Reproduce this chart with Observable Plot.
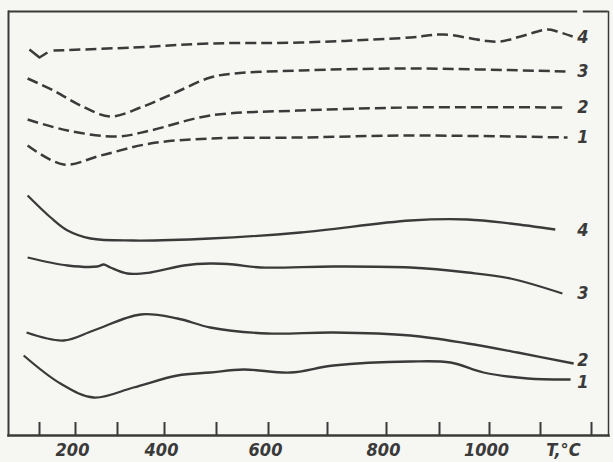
<!DOCTYPE html>
<html><head><meta charset="utf-8">
<script src="https://cdn.jsdelivr.net/npm/d3@7"></script>
<script src="https://cdn.jsdelivr.net/npm/@observablehq/plot@0.6"></script>
<style>
html,body{margin:0;padding:0;background:#f6f6f3;}
#chart svg{display:block;}
</style></head><body><div id="chart"></div>
<script>
// Temperature axis (non-uniform, as on the original thermogram)
const tickTemps = [100, 200, 300, 400, 500, 600, 700, 800, 900, 1000, 1100, 1200];
const labelTemps = [200, 400, 600, 800, 1000];
const axisTitle = "T,°C";
const curveNames = ["1", "2", "3", "4"];

// Dashed curves (TG), [temperature, reading]
const tg4Notch = [[72, 386], [100, 378], [122, 383]];
const tg4 = [[139, 385], [334, 388], [488, 392], [654, 393], [845, 398], [908, 401], [988, 395], [1022, 394], [1061, 399], [1114, 406], [1133, 404], [1163, 399]];
const tg3 = [[67, 357], [139, 345], [212, 330], [283, 319], [349, 328], [417, 342], [488, 358], [533, 362], [654, 365], [845, 367], [1149, 364]];
const tg2 = [[67, 316], [178, 305], [300, 299], [370, 305], [488, 320], [654, 325], [845, 328], [1149, 328]];
const tg1 = [[67, 290], [167, 271], [260, 280], [370, 292], [488, 297], [654, 298], [845, 300], [1153, 298]];

// Solid curves (DTA), [temperature, reading]
const dta4 = [[67, 240], [131, 218], [178, 205], [236, 197], [334, 195], [488, 197], [654, 203], [845, 215], [956, 216], [1041, 212], [1129, 206]];
const dta3 = [[67, 178], [178, 170], [252, 169], [267, 171], [283, 168], [321, 162], [370, 163], [437, 170], [488, 172], [533, 171], [585, 168], [710, 169], [845, 168], [956, 163], [1041, 157], [1143, 142]];
const dta2 = [[64, 103], [167, 95], [243, 105], [349, 121], [425, 117], [488, 108], [598, 102], [710, 103], [845, 100], [956, 92], [1055, 83], [1165, 72]];
const dta1 = [[56, 80], [158, 52], [243, 38], [334, 48], [425, 60], [488, 63], [552, 66], [637, 63], [710, 70], [845, 74], [922, 73], [988, 63], [1075, 57], [1159, 56]];

// Curve-number label readings (right margin)
const dashedLabelV = [298, 328, 364, 398];
const solidLabelV = [53, 75, 142, 205];

const ink = "#3a3a3a";
const font = "'DejaVu Sans Condensed','Liberation Sans Narrow','DejaVu Sans',sans-serif";
const rows = (arr) => arr.map(([t, v]) => ({t, v}));
const dashedSeries = [tg1, tg2, tg3, tg4];
const solidSeries = [dta1, dta2, dta3, dta4];
const labelT = 1183;

const lineOpts = {x: "t", y: "v", curve: "catmull-rom", stroke: ink, strokeWidth: 2.5, strokeLinecap: "butt"};
const textOpts = {fontSize: 18, fontStyle: "italic", fontWeight: 600, fill: ink};

const marks = [];
dashedSeries.forEach((s) => marks.push(Plot.line(rows(s), {...lineOpts, strokeDasharray: "11,5"})));
marks.push(Plot.line(rows(tg4Notch), {...lineOpts, curve: "linear"}));
solidSeries.forEach((s) => marks.push(Plot.line(rows(s), {...lineOpts, strokeWidth: 2.3})));

const labelRows = [];
dashedLabelV.forEach((v, i) => labelRows.push({t: labelT, v, name: curveNames[i]}));
solidLabelV.forEach((v, i) => labelRows.push({t: labelT, v, name: curveNames[i]}));
marks.push(Plot.text(labelRows, {x: "t", y: "v", text: "name", ...textOpts}));

// frame & axis
marks.push(Plot.frame({anchor: "left", stroke: ink, strokeWidth: 2}));
marks.push(Plot.frame({anchor: "right", stroke: ink, strokeWidth: 1.5}));
marks.push(Plot.frame({anchor: "bottom", stroke: ink, strokeWidth: 2.5}));
marks.push(Plot.ruleY([{a: 14, b: 1173}, {a: 1184, b: 1233}], {y: () => 424, x1: "a", x2: "b", stroke: ink, strokeWidth: 2}));
marks.push(Plot.ruleX(tickTemps, {y1: 0, y2: 13, stroke: ink, strokeWidth: 2}));
marks.push(Plot.axisX({ticks: labelTemps, tickSize: 0, tickPadding: 8, tickFormat: (d) => String(d), label: null, ...textOpts, dx: -3}));
marks.push(Plot.text([{t: 1145, s: axisTitle}], {x: "t", text: "s", frameAnchor: "bottom", lineAnchor: "top", dy: 8, ...textOpts}));

const chart = Plot.plot({
  width: 613, height: 462,
  marginLeft: 8, marginRight: 5, marginTop: 11, marginBottom: 27,
  style: {background: "transparent", fontFamily: font, color: ink},
  x: {type: "linear", domain: tickTemps, range: [39, 75, 117, 164, 216, 268, 327, 386, 439, 489, 540, 591], axis: null},
  y: {domain: [0, 424], axis: null},
  marks
});
document.getElementById("chart").appendChild(chart);
</script></body></html>
